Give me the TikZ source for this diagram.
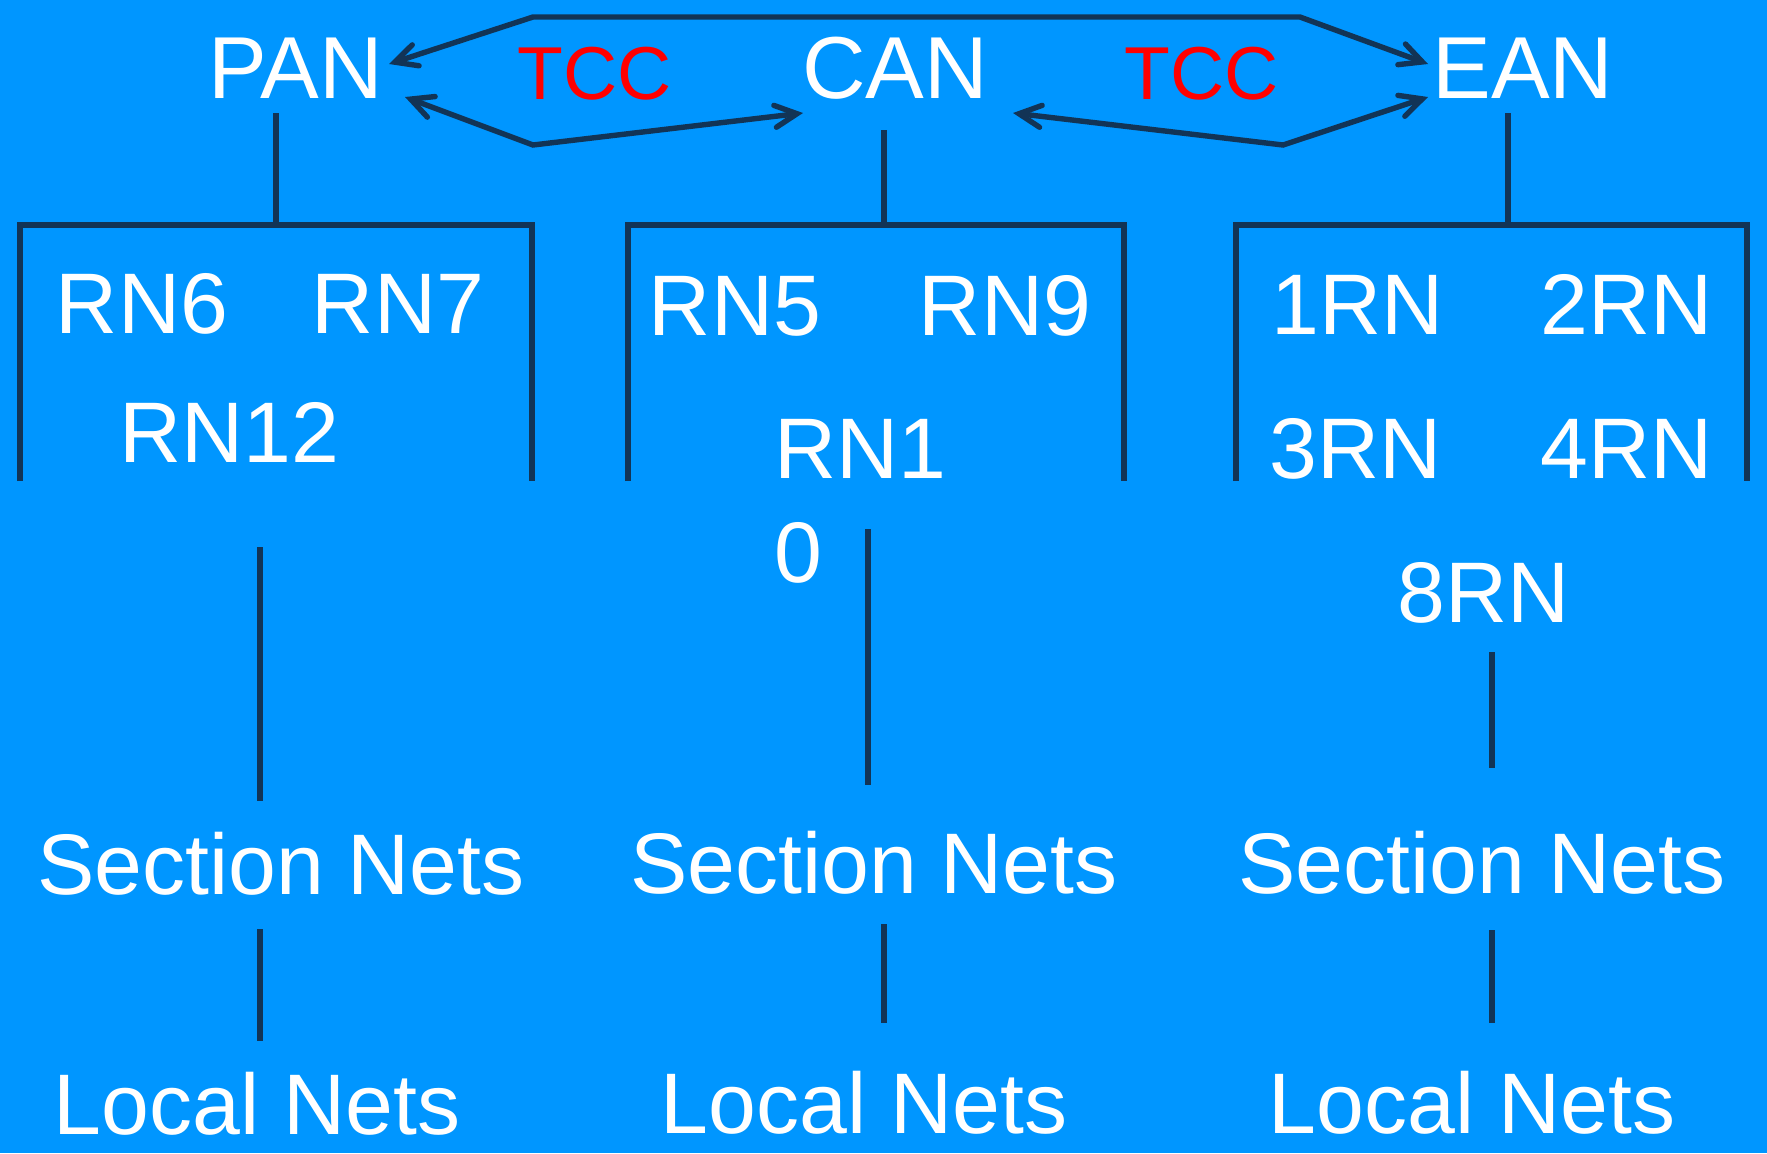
\documentclass[tikz,border=0pt]{standalone}
\usepackage{fontspec}
\setmainfont{Liberation Sans}
\usetikzlibrary{arrows.meta}
\definecolor{bgblue}{RGB}{0,150,255}
\definecolor{navy}{RGB}{18,52,86}
\begin{document}
\begin{tikzpicture}[x=0.5pt,y=-0.5pt,
  lbl/.style={text=white, font=\fontsize{43}{52}\selectfont, inner sep=0pt, anchor=base},
  toplbl/.style={lbl, font=\fontsize{44}{52}\selectfont},
  tcc/.style={text=red, font=\fontsize{37.5}{45}\selectfont, inner sep=0pt, anchor=base},
  wire/.style={draw=navy, line width=2.8pt},
  arr/.style={wire, line width=2.7pt, line join=miter, arrows={Straight Barb[length=11pt,width=11pt,line cap=round]-Straight Barb[length=11pt,width=11pt,line cap=round]}}]
\fill[bgblue] (0,0) rectangle (1767,1153);
\useasboundingbox (0,0) rectangle (1767,1153);

% top level
\node[toplbl] (pan) at (296,98) {PAN};
\node[toplbl] (can) at (895,98) {CAN};
\node[toplbl] (ean) at (1523,98) {EAN};
\node[tcc] (tcc1) at (595,99) {TCC};
\node[tcc] (tcc2) at (1202,99) {TCC};

% arrow end points and bends
\coordinate (panA) at (389,64);
\coordinate (panB) at (405,97);
\coordinate (canA) at (803,113);
\coordinate (canB) at (1013,113);
\coordinate (eanA) at (1428,64);
\coordinate (eanB) at (1428,97);
\coordinate (topL) at (533,17);
\coordinate (topR) at (1300,17);
\coordinate (lowL) at (533,145);
\coordinate (lowR) at (1283,145);

\draw[arr] (panA) -- (topL) -- (topR) -- (eanA);
\draw[arr] (panB) -- (lowL) -- (canA);
\draw[arr] (canB) -- (lowR) -- (eanB);

% brackets
\coordinate (brL1) at (20,481);  \coordinate (brL2) at (20,225);
\coordinate (brL3) at (532,225); \coordinate (brL4) at (532,481);
\coordinate (brM1) at (628,481); \coordinate (brM2) at (628,225);
\coordinate (brM3) at (1124,225);\coordinate (brM4) at (1124,481);
\coordinate (brR1) at (1236,481);\coordinate (brR2) at (1236,225);
\coordinate (brR3) at (1747,225);\coordinate (brR4) at (1747,481);
\draw[wire] (brL1) -- (brL2) -- (brL3) -- (brL4);
\draw[wire] (brM1) -- (brM2) -- (brM3) -- (brM4);
\draw[wire] (brR1) -- (brR2) -- (brR3) -- (brR4);

% stems from top labels
\coordinate (panS) at (276,113); \coordinate (panT) at (276,225);
\coordinate (canS) at (884,130); \coordinate (canT) at (884,225);
\coordinate (eanS) at (1508,113);\coordinate (eanT) at (1508,225);
\draw[wire] (panS) -- (panT);
\draw[wire] (canS) -- (canT);
\draw[wire] (eanS) -- (eanT);

% RN labels
\node[lbl] (rn6) at (142,333) {RN6};
\node[lbl] (rn7) at (398,333) {RN7};
\node[lbl] (rn12) at (229,462) {RN12};
\node[lbl] (rn5) at (735,335) {RN5};
\node[lbl] (rn9) at (1005,335) {RN9};
\node[lbl, anchor=base west] (rn10) at (774,478) {\begin{tabular}[t]{@{}l@{}}RN1\\0\end{tabular}};
\node[lbl] (rn1r) at (1358,334) {1RN};
\node[lbl] (rn2r) at (1627,334) {2RN};
\node[lbl] (rn3r) at (1356,478) {3RN};
\node[lbl] (rn4r) at (1627,478) {4RN};
\node[lbl] (rn8r) at (1484,622) {8RN};

% section and local nets
\node[lbl] (secL) at (281,894) {Section Nets};
\node[lbl] (secM) at (874,893) {Section Nets};
\node[lbl] (secR) at (1482,893) {Section Nets};
\node[lbl] (locL) at (257,1134) {Local Nets};
\node[lbl] (locM) at (864,1133) {Local Nets};
\node[lbl] (locR) at (1472,1133) {Local Nets};

% lower stems
\coordinate (l1a) at (260,547);  \coordinate (l1b) at (260,801);
\coordinate (l2a) at (260,929);  \coordinate (l2b) at (260,1041);
\coordinate (m1a) at (868,529);  \coordinate (m1b) at (868,785);
\coordinate (m2a) at (884,924);  \coordinate (m2b) at (884,1023);
\coordinate (r1a) at (1492,652); \coordinate (r1b) at (1492,768);
\coordinate (r2a) at (1492,930); \coordinate (r2b) at (1492,1023);
\draw[wire] (l1a) -- (l1b);
\draw[wire] (l2a) -- (l2b);
\draw[wire] (m1a) -- (m1b);
\draw[wire] (m2a) -- (m2b);
\draw[wire] (r1a) -- (r1b);
\draw[wire] (r2a) -- (r2b);
\end{tikzpicture}
\end{document}
